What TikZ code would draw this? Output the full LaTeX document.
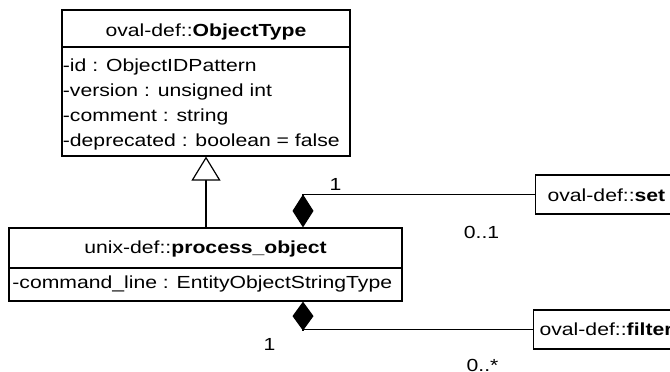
\documentclass[tikz,border=0pt]{standalone}
\usepackage{fontspec}
\usetikzlibrary{arrows.meta}
\newfontfamily\umlfont{Liberation Sans}[FakeStretch=1.21]
\newcommand{\umlsize}{\umlfont\fontsize{17.5}{21}\selectfont}
\begin{document}
\begin{tikzpicture}[x=1pt,y=-1pt,line width=1.2pt,
  box/.style={draw,inner sep=0pt,line width=1.2pt},
  txt/.style={inner sep=0pt,anchor=base west,font=\umlsize},
  ctxt/.style={inner sep=0pt,anchor=base,font=\umlsize},
  refbox/.style={draw,line width=1.2pt,anchor=west,inner ysep=0pt,text depth=0pt,font=\umlsize}]
\useasboundingbox (0,0) rectangle (670,372);
\clip (0,0) rectangle (670,372);
% ObjectType
\node[box,minimum width=288pt,minimum height=37pt] (otH) at (206,28.5) {};
\node[box,minimum width=288pt,minimum height=109pt] (otA) at (206,101.5) {};
\node[ctxt] (otT) at (206,36) {oval-def::\textbf{ObjectType}};
\node[txt] (ot1) at (62.3,71.7) {-id : ObjectIDPattern};
\node[txt] (ot2) at (62.3,96.7) {-version : unsigned int};
\node[txt] (ot3) at (62.3,121.7) {-comment : string};
\node[txt] (ot4) at (62.3,146.7) {-deprecated : boolean = false};
% process_object
\node[box,minimum width=393pt,minimum height=40pt] (poH) at (205.5,248) {};
\node[box,minimum width=393pt,minimum height=33pt] (poA) at (205.5,284.5) {};
\node[ctxt] (poT) at (205.5,253.3) {unix-def::\textbf{process\_object}};
\node[txt] (po1) at (11.8,288.3) {-command\_line : EntityObjectStringType};
% referenced classes
\node[refbox,inner xsep=12pt,minimum height=39pt,text height=13pt] (set) at (535,194.5) {oval-def::\textbf{set}};
\node[refbox,inner xsep=6pt,minimum height=39pt,text height=11pt] (filter) at (533,329.5) {oval-def::\textbf{filter}};
% connectors
\coordinate (cx) at (303,0);
\draw[-{Triangle[open,length=24pt,width=29pt,fill=white]}] (otA.south |- poH.north) -- (otA.south);
\draw[-{Diamond[length=33pt,width=21pt]}] (set.west) -| (cx |- poH.north);
\draw[-{Diamond[length=29pt,width=21pt]}] (filter.west) -| (cx |- poA.south);
% multiplicities
\node[ctxt] (m1) at (335.5,190.7) {1};
\node[ctxt] (m2) at (481.5,238.3) {0..1};
\node[ctxt] (m3) at (269.5,350.7) {1};
\node[ctxt] (m4) at (482.5,371.5) {0..*};
\end{tikzpicture}
\end{document}
